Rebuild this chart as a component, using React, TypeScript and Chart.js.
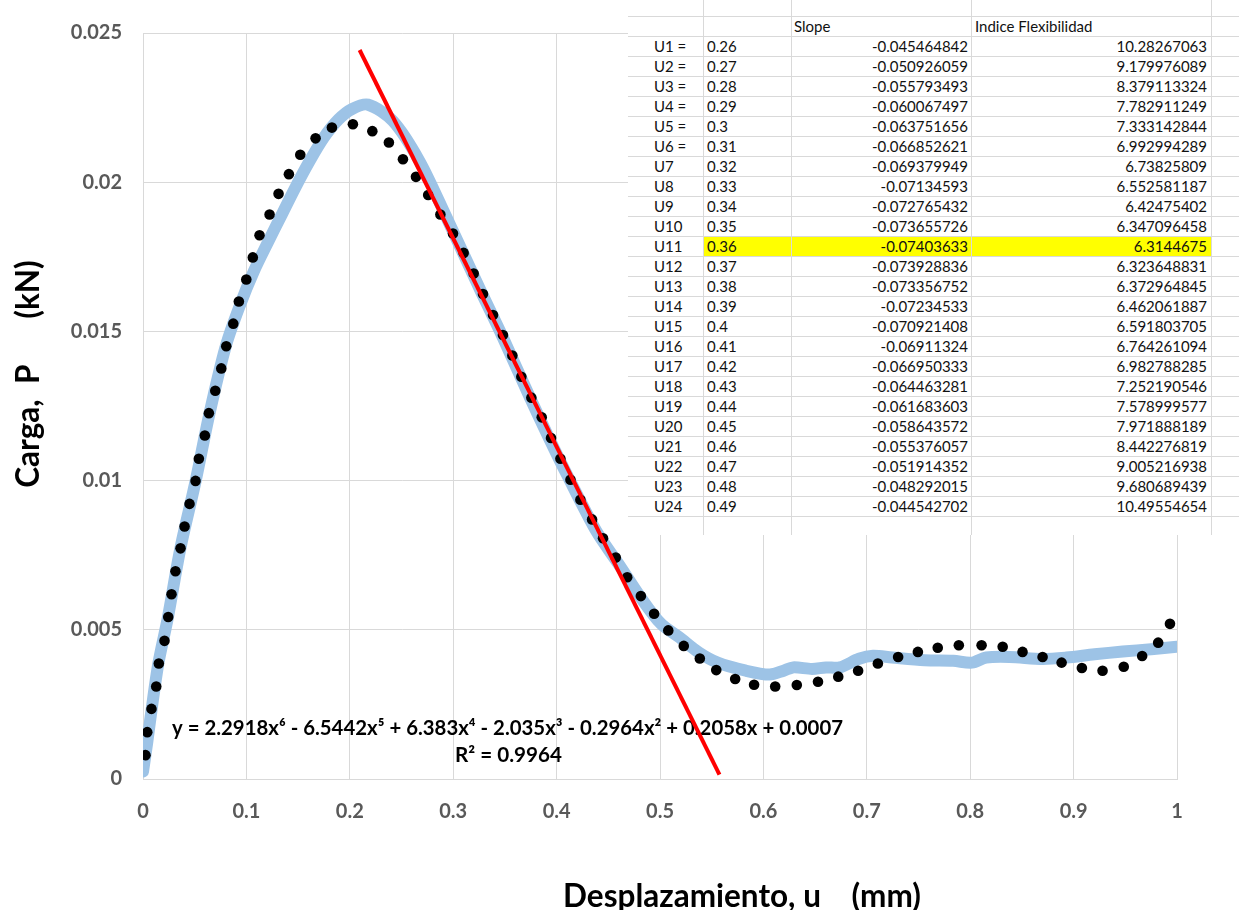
import React, { useEffect, useRef } from "react";
import { Chart, registerables } from "chart.js";

Chart.register(...registerables);

// ---------- data ----------
const xTickLabels = ["0", "0.1", "0.2", "0.3", "0.4", "0.5", "0.6", "0.7", "0.8", "0.9", "1"];
const yTickLabels = ["0", "0.005", "0.01", "0.015", "0.02", "0.025"];

// measured load-displacement curve (light blue)
const measuredU = [0, 0.004, 0.0082, 0.015, 0.024, 0.036, 0.051, 0.064, 0.08, 0.094, 0.107, 0.121, 0.134, 0.147, 0.161, 0.175, 0.189, 0.202, 0.2175, 0.2417, 0.2675, 0.2934, 0.326, 0.348, 0.374, 0.393, 0.41, 0.4385, 0.46, 0.483, 0.501, 0.519, 0.5376, 0.5558, 0.583, 0.606, 0.6196, 0.6287, 0.647, 0.6606, 0.674, 0.6925, 0.706, 0.7244, 0.756, 0.7836, 0.8018, 0.8155, 0.838, 0.87, 0.893, 0.9203, 0.9476, 0.975, 1.0];
const measuredP = [0.00025, 0.0012, 0.0023, 0.0039, 0.0054, 0.0077, 0.01, 0.0122, 0.0145, 0.0159, 0.017, 0.018, 0.0189, 0.0198, 0.0207, 0.0215, 0.0221, 0.02245, 0.0226, 0.02205, 0.0207, 0.01883, 0.0164, 0.0148, 0.0128, 0.0114, 0.0102, 0.0083, 0.0072, 0.006, 0.0052, 0.00474, 0.00424, 0.0039, 0.00363, 0.0035, 0.00363, 0.00374, 0.00369, 0.00374, 0.00374, 0.00403, 0.00413, 0.00407, 0.00398, 0.00396, 0.0039, 0.00407, 0.00409, 0.00402, 0.00407, 0.00418, 0.00427, 0.00435, 0.00443];

// polynomial trendline, drawn as round dots (black)
const trendU = [0.0024, 0.0041, 0.0082, 0.0128, 0.0153, 0.0208, 0.0244, 0.0276, 0.0314, 0.0363, 0.0402, 0.045, 0.0508, 0.054, 0.0598, 0.0637, 0.0699, 0.0757, 0.0805, 0.0873, 0.0927, 0.0999, 0.1062, 0.1127, 0.1224, 0.1311, 0.1411, 0.1521, 0.1669, 0.1827, 0.203, 0.2218, 0.2378, 0.2514, 0.264, 0.2758, 0.2876, 0.2998, 0.3101, 0.3198, 0.3288, 0.3385, 0.3481, 0.3572, 0.3659, 0.3756, 0.3856, 0.3946, 0.4037, 0.4134, 0.423, 0.4343, 0.4449, 0.4572, 0.4683, 0.4815, 0.4943, 0.508, 0.523, 0.5385, 0.5544, 0.5727, 0.591, 0.6114, 0.6323, 0.6528, 0.6724, 0.6916, 0.7107, 0.7303, 0.7494, 0.7686, 0.789, 0.811, 0.8314, 0.8506, 0.87, 0.8884, 0.908, 0.928, 0.9485, 0.9663, 0.9818, 0.9932];
const trendP = [0.0008, 0.00157, 0.00235, 0.0031, 0.00387, 0.00463, 0.00543, 0.00619, 0.00696, 0.00773, 0.00846, 0.00922, 0.00999, 0.01073, 0.01151, 0.01226, 0.01301, 0.01376, 0.0145, 0.01526, 0.016, 0.01674, 0.01748, 0.01822, 0.01892, 0.01961, 0.02027, 0.02092, 0.02147, 0.02183, 0.02194, 0.02171, 0.02133, 0.02077, 0.02018, 0.01957, 0.01892, 0.01828, 0.01763, 0.01694, 0.01625, 0.01555, 0.01488, 0.01419, 0.01348, 0.01278, 0.01212, 0.01143, 0.01073, 0.01003, 0.00936, 0.0087, 0.00807, 0.00742, 0.00676, 0.00613, 0.00554, 0.00498, 0.00446, 0.00404, 0.00365, 0.00335, 0.00316, 0.0031, 0.00315, 0.00326, 0.00343, 0.00363, 0.00387, 0.00409, 0.00426, 0.0044, 0.00448, 0.00448, 0.00443, 0.00426, 0.00409, 0.0039, 0.00372, 0.00363, 0.00376, 0.00412, 0.00457, 0.0052];

// tangent line (red)
const tangentU = [0.2095, 0.5575];
const tangentP = [0.02443, 0.00015];

const equationText = "y = 2.2918x\u2076 - 6.5442x\u2075 + 6.383x\u2074 - 2.035x\u00B3 - 0.2964x\u00B2 + 0.2058x + 0.0007";
const r2Text = "R\u00B2 = 0.9964";
const xTitle = "Desplazamiento, u    (mm)";
const yTitle = "Carga,  P      (kN)";

// spreadsheet table
const tableHeaders = ["Slope", "Indice Flexibilidad"];
const tableLabels = ["U1 =", "U2 =", "U3 =", "U4 =", "U5 =", "U6 =", "U7", "U8", "U9", "U10", "U11", "U12", "U13", "U14", "U15", "U16", "U17", "U18", "U19", "U20", "U21", "U22", "U23", "U24"];
const tableU = ["0.26", "0.27", "0.28", "0.29", "0.3", "0.31", "0.32", "0.33", "0.34", "0.35", "0.36", "0.37", "0.38", "0.39", "0.4", "0.41", "0.42", "0.43", "0.44", "0.45", "0.46", "0.47", "0.48", "0.49"];
const tableSlope = ["-0.045464842", "-0.050926059", "-0.055793493", "-0.060067497", "-0.063751656", "-0.066852621", "-0.069379949", "-0.07134593", "-0.072765432", "-0.073655726", "-0.07403633", "-0.073928836", "-0.073356752", "-0.07234533", "-0.070921408", "-0.06911324", "-0.066950333", "-0.064463281", "-0.061683603", "-0.058643572", "-0.055376057", "-0.051914352", "-0.048292015", "-0.044542702"];
const tableIndex = ["10.28267063", "9.179976089", "8.379113324", "7.782911249", "7.333142844", "6.992994289", "6.73825809", "6.552581187", "6.42475402", "6.347096458", "6.3144675", "6.323648831", "6.372964845", "6.462061887", "6.591803705", "6.764261094", "6.982788285", "7.252190546", "7.578999577", "7.971888189", "8.442276819", "9.005216938", "9.680689439", "10.49554654"];
const highlightedRow = 10;

// ---------- layout constants ----------
const W = 1239;
const H = 910;
const TICK_FONT = { family: "Lato", size: 20, weight: "bold" as const };
const GRID = "#d9d9d9";

const textPlugin = {
  id: "annotTexts",
  beforeDatasetsDraw(chart: any) {
    const ctx = chart.ctx as CanvasRenderingContext2D;
    ctx.save();
    ctx.fillStyle = "#000";
    ctx.font = "bold 21px Lato";
    ctx.textAlign = "left";
    ctx.textBaseline = "alphabetic";
    ctx.fillText(equationText, 172, 735, 671);
    ctx.fillText(r2Text, 455, 762, 107);
    ctx.restore();
  },
  afterDraw(chart: any) {
    const ctx = chart.ctx as CanvasRenderingContext2D;
    ctx.save();
    ctx.fillStyle = "#000";
    ctx.font = "bold 31.5px Lato";
    ctx.textBaseline = "alphabetic";
    ctx.textAlign = "center";
    ctx.fillText(xTitle, 742, 907);
    ctx.translate(39, 374);
    ctx.rotate(-Math.PI / 2);
    ctx.fillText(yTitle, 0, 0);
    ctx.restore();
  },
};

function SheetTable() {
  const left = 628;
  const colLines = [703, 791, 971, 1211];
  const hLines: number[] = [];
  for (let k = 0; k <= tableLabels.length + 1; k++) hLines.push(16 + 20 * k);
  const rowTop = (k: number) => 16 + 20 * k;
  const cell = (txt: string, x: number, k: number, align: "left" | "right", key: string) => (
    <div
      key={key}
      style={{
        position: "absolute",
        top: rowTop(k) + 1,
        height: 19,
        lineHeight: "19px",
        whiteSpace: "nowrap",
        ...(align === "left" ? { left: x - left } : { right: W - x, textAlign: "right" as const }),
      }}
    >
      {txt}
    </div>
  );
  return (
    <div
      style={{
        position: "absolute",
        left,
        top: 0,
        width: W - left,
        height: 535,
        background: "#fff",
        fontFamily: "Lato, sans-serif",
        fontSize: 15,
        color: "#111",
        overflow: "hidden",
      }}
    >
      <div
        style={{
          position: "absolute",
          left: 703 - left,
          top: rowTop(highlightedRow + 1),
          width: 1211 - 703,
          height: 20,
          background: "#ffff00",
        }}
      />
      {hLines.map((y, i) => (
        <div key={"h" + i} style={{ position: "absolute", left: 0, top: y, width: W - left, height: 1, background: GRID }} />
      ))}
      {colLines.map((x, i) => (
        <div key={"v" + i} style={{ position: "absolute", left: x - left, top: 0, width: 1, height: 535, background: GRID }} />
      ))}
      {cell(tableHeaders[0], 794, 0, "left", "hs")}
      {cell(tableHeaders[1], 975, 0, "left", "hi")}
      {tableLabels.map((lab, i) => cell(lab, 654, i + 1, "left", "l" + i))}
      {tableU.map((u, i) => cell(u, 707, i + 1, "left", "u" + i))}
      {tableSlope.map((s, i) => cell(s, 968, i + 1, "right", "s" + i))}
      {tableIndex.map((s, i) => cell(s, 1207, i + 1, "right", "f" + i))}
    </div>
  );
}

export default function App() {
  const canvasRef = useRef<HTMLCanvasElement | null>(null);

  useEffect(() => {
    const canvas = canvasRef.current;
    if (!canvas) return;
    const chart = new Chart(canvas, {
      type: "scatter",
      data: {
        datasets: [
          {
            label: "Tangente",
            data: tangentU.map((u, i) => ({ x: u, y: tangentP[i] })),
            showLine: true,
            borderColor: "#ff0000",
            borderWidth: 4,
            pointRadius: 0,
            borderCapStyle: "butt",
          },
          {
            label: "Polinómica",
            data: trendU.map((u, i) => ({ x: u, y: trendP[i] })),
            showLine: false,
            pointRadius: 5.3,
            pointBackgroundColor: "#000",
            pointBorderWidth: 0,
            backgroundColor: "#000",
            borderColor: "#000",
          },
          {
            label: "Carga",
            data: measuredU.map((u, i) => ({ x: u, y: measuredP[i] })),
            showLine: true,
            borderColor: "#9dc3e6",
            borderWidth: 12,
            pointRadius: 0,
            tension: 0.3,
            borderCapStyle: "round",
            borderJoinStyle: "round",
          },
        ],
      },
      options: {
        animation: false,
        responsive: false,
        devicePixelRatio: 1,
        layout: { padding: { top: 28, right: 62, left: 0, bottom: 0 } },
        plugins: {
          legend: { display: false },
          tooltip: { enabled: false },
          title: { display: false },
        },
        scales: {
          x: {
            type: "linear",
            min: 0,
            max: 1,
            ticks: {
              stepSize: 0.1,
              padding: 21,
              color: "#595959",
              font: TICK_FONT,
              maxRotation: 0,
              callback: (v: any) => xTickLabels[Math.round(Number(v) * 10)] ?? "",
            },
            grid: { color: GRID, lineWidth: 1, drawTicks: false },
            border: { display: true, color: GRID, width: 1 },
            afterFit: (s: any) => {
              s.height = H - 779;
            },
          },
          y: {
            type: "linear",
            min: 0,
            max: 0.025,
            ticks: {
              stepSize: 0.005,
              padding: 21,
              color: "#595959",
              font: TICK_FONT,
              callback: (v: any) => yTickLabels[Math.round(Number(v) / 0.005)] ?? "",
            },
            grid: { color: GRID, lineWidth: 1, drawTicks: false },
            border: { display: true, color: GRID, width: 1 },
            afterFit: (s: any) => {
              s.width = 143;
            },
          },
        },
      },
      plugins: [textPlugin],
    } as any);
    return () => chart.destroy();
  }, []);

  return (
    <div style={{ position: "absolute", left: 0, top: 0, width: W, height: H, background: "#fff", overflow: "hidden" }}>
      <canvas ref={canvasRef} width={W} height={H} style={{ display: "block", width: W, height: H }} />
      <SheetTable />
    </div>
  );
}
